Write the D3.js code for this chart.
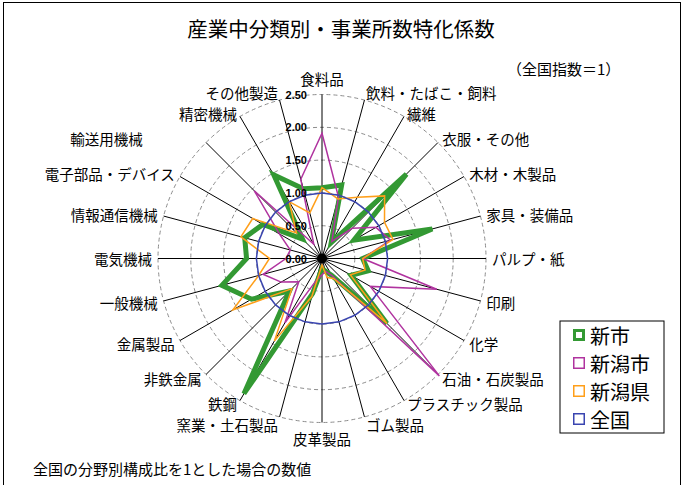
<!DOCTYPE html>
<html lang="ja">
<head>
<meta charset="UTF-8">
<title>産業中分類別・事業所数特化係数</title>
<script src="https://d3js.org/d3.v7.min.js"></script>
<style>
  body { margin: 0; background: #fff; }
  svg text { font-family: "Noto Sans CJK JP", sans-serif; fill: #000; }
  .tick-label { font-family: "Liberation Sans", Arial, sans-serif; font-weight: bold; font-size: 11px; }
</style>
</head>
<body>
<div id="chart"></div>
<script>
// categories, clockwise from the top
const categories = ["食料品", "飲料・たばこ・飼料", "繊維", "衣服・その他", "木材・木製品", "家具・装備品",
  "パルプ・紙", "印刷", "化学", "石油・石炭製品", "プラスチック製品", "ゴム製品", "皮革製品",
  "窯業・土石製品", "鉄鋼", "非鉄金属", "金属製品", "一般機械", "電気機械", "情報通信機械",
  "電子部品・デバイス", "輸送用機械", "精密機械", "その他製造"];

const shinshi   = [1.08, 1.16, 0.28, 1.82, 0.56, 1.74, 0.62, 0.73, 0.51, 1.40, 0.30, 0.20, 0.15,
                   0.55, 2.38, 0.70, 1.24, 1.58, 1.15, 1.22, 1.04, 0.42, 1.47, 1.10];
const niigataShi = [1.91, 0.97, 0.30, 0.65, 0.95, 1.08, 0.62, 1.81, 0.85, 2.53, 0.30, 0.20, 0.25,
                   0.35, 1.13, 0.50, 0.72, 0.93, 0.55, 0.50, 0.75, 1.46, 0.25, 1.25];
const niigataKen = [1.08, 0.94, 1.08, 1.35, 1.10, 1.12, 0.62, 0.68, 0.50, 1.40, 0.35, 0.30, 0.10,
                   0.60, 1.45, 0.65, 1.57, 1.00, 0.80, 1.28, 1.22, 0.55, 1.00, 0.72];
const zenkoku   = categories.map(() => 1);

const tickValues = [0, 0.5, 1.0, 1.5, 2.0, 2.5];

const series = [
  { name: "新市",   values: shinshi,    color: "#339933", width: 5 },
  { name: "新潟市", values: niigataShi, color: "#b0339f", width: 1.5 },
  { name: "新潟県", values: niigataKen, color: "#ff9f1a", width: 1.5 },
  { name: "全国",   values: zenkoku,    color: "#3a45b0", width: 1.5 }
];

const width = 686, height = 485;
const cx = 322, cy = 258.5;

const svg = d3.select("#chart").append("svg")
  .attr("width", width).attr("height", height);

// outer frame
svg.append("rect")
  .attr("x", 3.5).attr("y", 2.5)
  .attr("width", 677).attr("height", 495)
  .attr("fill", "#fff").attr("stroke", "#000").attr("stroke-width", 1);

// title
svg.append("text")
  .attr("x", 341).attr("y", 28)
  .attr("text-anchor", "middle").attr("dominant-baseline", "central")
  .style("font-size", "20.5px")
  .text("産業中分類別・事業所数特化係数");

svg.append("text")
  .attr("x", 507).attr("y", 68)
  .attr("dominant-baseline", "central")
  .style("font-size", "15px")
  .text("（全国指数＝1）");

const r = d3.scaleLinear().domain([0, 2.5]).range([0, 164]);
const angle = d3.scaleLinear().domain([0, categories.length]).range([0, 2 * Math.PI]);

const g = svg.append("g").attr("transform", `translate(${cx},${cy})`);

// dashed gridlines
g.selectAll("circle.grid")
  .data(tickValues.filter(d => d > 0))
  .enter().append("circle")
  .attr("class", "grid")
  .attr("r", d => r(d))
  .attr("fill", "none")
  .attr("stroke", "#8c8c8c")
  .attr("stroke-width", 1)
  .attr("stroke-dasharray", "4,3");

// spokes
g.selectAll("line.spoke")
  .data(categories)
  .enter().append("line")
  .attr("class", "spoke")
  .attr("x1", 0).attr("y1", 0)
  .attr("x2", (d, i) => r(2.5) * Math.sin(angle(i)))
  .attr("y2", (d, i) => -r(2.5) * Math.cos(angle(i)))
  .attr("stroke", "#000").attr("stroke-width", 1);

// series
const line = d3.lineRadial()
  .angle((d, i) => angle(i))
  .radius(d => r(d))
  .curve(d3.curveLinearClosed);

g.selectAll("path.series")
  .data(series)
  .enter().append("path")
  .attr("class", "series")
  .attr("d", d => line(d.values))
  .attr("fill", "none")
  .attr("stroke", d => d.color)
  .attr("stroke-width", d => d.width)
  .attr("stroke-linejoin", "miter");

g.append("circle").attr("r", 5).attr("fill", "#000");

// tick labels
g.selectAll("text.tick-label")
  .data(tickValues)
  .enter().append("text")
  .attr("class", "tick-label")
  .attr("x", -15)
  .attr("y", d => -r(d))
  .attr("text-anchor", "end")
  .attr("dominant-baseline", "central")
  .text(d => d.toFixed(2));

// category labels; a few nudged apart where neighbours crowd, as Excel placed them
const nudgeY = { 15: -2, 30: 2, 150: -2, 165: 2, 195: 2, 210: -2, 330: 2, 345: -2 };
const nudgeX = { 315: -59 };
const labelR = r(2.5) + 6;
g.selectAll("text.cat")
  .data(categories)
  .enter().append("text")
  .attr("class", "cat")
  .style("font-size", "14.5px")
  .attr("dominant-baseline", "central")
  .attr("text-anchor", (d, i) => {
    const deg = i * 360 / categories.length;
    if (deg === 0 || deg === 180) return "middle";
    return deg < 180 ? "start" : "end";
  })
  .attr("x", (d, i) => {
    const deg = i * 360 / categories.length;
    return labelR * Math.sin(angle(i)) + (nudgeX[deg] || 0);
  })
  .attr("y", (d, i) => {
    const deg = i * 360 / categories.length;
    const y = -labelR * Math.cos(angle(i));
    if (deg === 0) return y - 10;
    if (deg === 180) return y + 10;
    return y + (nudgeY[deg] || 0);
  })
  .text(d => d);

// legend
const legend = svg.append("g").attr("transform", "translate(560,321)");
legend.append("rect")
  .attr("width", 104).attr("height", 112)
  .attr("fill", "#fff").attr("stroke", "#000").attr("stroke-width", 1);

const items = legend.selectAll("g.item")
  .data(series)
  .enter().append("g")
  .attr("class", "item")
  .attr("transform", (d, i) => `translate(0,${14 + i * 28})`);

items.append("rect")
  .attr("x", d => 13 + (d.width > 2 ? 1.5 : 0.75))
  .attr("y", d => -6 + (d.width > 2 ? 1.5 : 0.75))
  .attr("width", d => 12 - (d.width > 2 ? 3 : 1.5))
  .attr("height", d => 12 - (d.width > 2 ? 3 : 1.5))
  .attr("fill", "#fff")
  .attr("stroke", d => d.color)
  .attr("stroke-width", d => d.width > 2 ? 3 : 1.5);

items.append("text")
  .attr("x", 30).attr("y", 0)
  .attr("dominant-baseline", "central")
  .style("font-size", "20px")
  .text(d => d.name);

// note
svg.append("text")
  .attr("x", 33).attr("y", 468)
  .attr("dominant-baseline", "central")
  .style("font-size", "15px")
  .text("全国の分野別構成比を1とした場合の数値");
</script>
</body>
</html>
